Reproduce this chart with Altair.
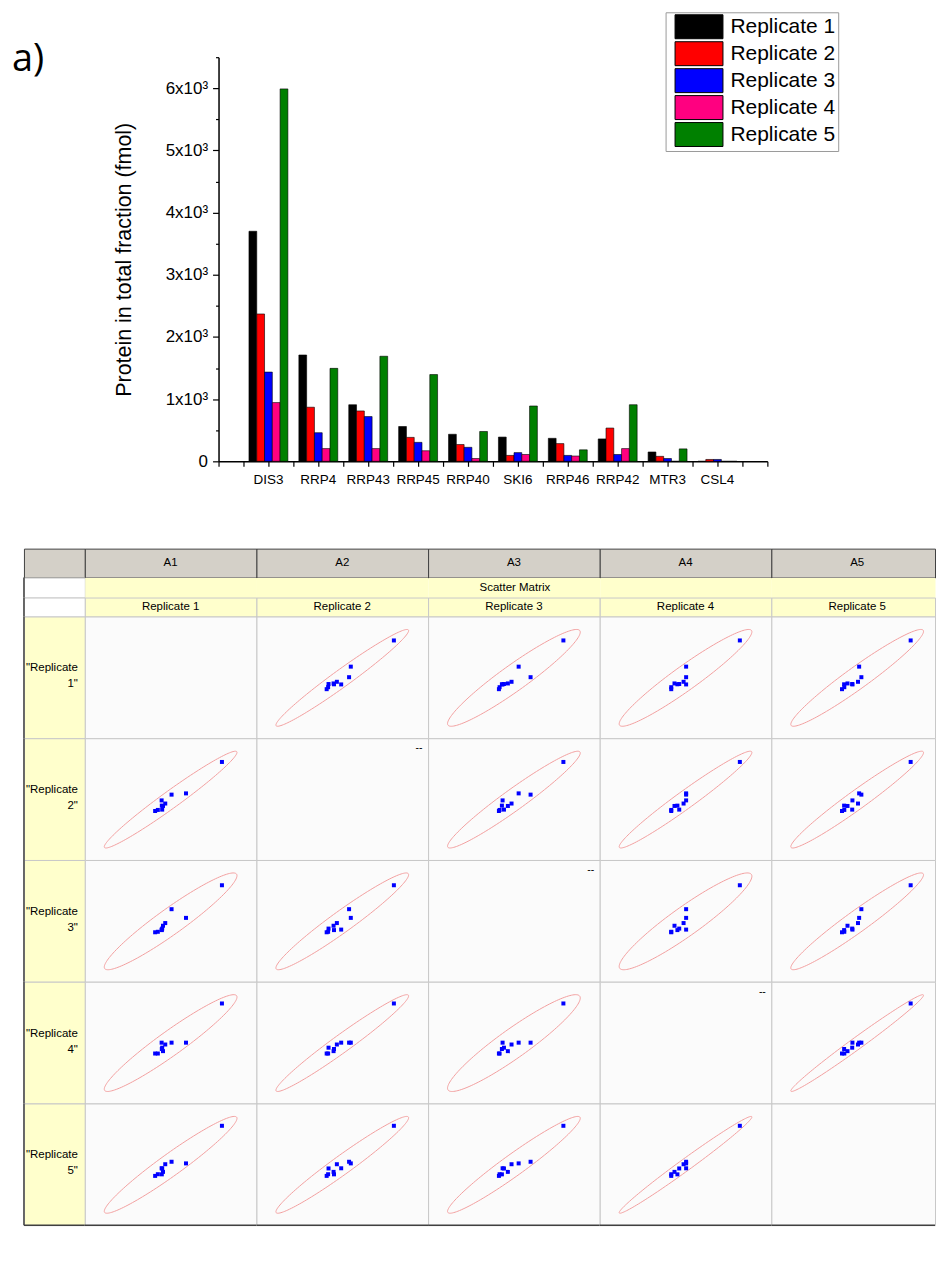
import altair as alt
import numpy as np
import pandas as pd

FONT = "Liberation Sans"

# ---------------- data ----------------
proteins = ["DIS3", "RRP4", "RRP43", "RRP45", "RRP40", "SKI6", "RRP46", "RRP42", "MTR3", "CSL4"]
replicates = ["Replicate 1", "Replicate 2", "Replicate 3", "Replicate 4", "Replicate 5"]
rep1 = [3700, 1710, 910, 560, 435, 390, 370, 360, 150, 0]
rep2 = [2370, 870, 810, 385, 270, 95, 285, 535, 80, 30]
rep3 = [1435, 460, 720, 305, 225, 140, 95, 110, 45, 30]
rep4 = [945, 205, 205, 170, 45, 110, 85, 205, 0, 0]
rep5 = [5990, 1495, 1690, 1395, 480, 890, 185, 910, 200, 0]
colors = ["#000000", "#ff0000", "#0000ff", "#ff0080", "#008000"]
col_headers = ["A1", "A2", "A3", "A4", "A5"]
matrix_title = "Scatter Matrix"
panel_label = "a)"
y_title = "Protein in total fraction (fmol)"

values_by_rep = [rep1, rep2, rep3, rep4, rep5]

bar_df = pd.DataFrame([
    {"protein": p, "replicate": r, "value": v}
    for r, vals in zip(replicates, values_by_rep)
    for p, v in zip(proteins, vals)
])
pos_df = pd.DataFrame({"protein": proteins, "pos": np.arange(1, len(proteins) + 1)})

TRANSPARENT = alt.ViewBackground(stroke="transparent", fill="transparent")

# ---------------- bar chart ----------------
yvals = list(range(0, 6501, 500))
bars = alt.Chart(bar_df).mark_bar(stroke="black", strokeWidth=0.6).encode(
    x=alt.X("protein:N", sort=proteins,
            scale=alt.Scale(paddingInner=0.22, paddingOuter=0.61),
            axis=alt.Axis(title=None, orient="bottom", ticks=False, domain=False, labelAngle=0,
                          labelFont=FONT, labelFontSize=13.5, labelColor="black",
                          labelPadding=11, labelOverlap=False)),
    xOffset=alt.XOffset("replicate:N", sort=replicates),
    y=alt.Y("value:Q", scale=alt.Scale(domain=[0, 6500], nice=False),
            axis=alt.Axis(title=y_title, values=yvals, grid=False,
                          labelExpr="datum.value % 1000 !== 0 ? '' : (datum.value === 0 ? '0' : (datum.value / 1000) + 'x10\u00b3')",
                          tickSize={"condition": {"test": "datum.value % 1000 !== 0", "value": 3}, "value": 6},
                          tickColor="black", tickWidth=1.2, domainColor="black", domainWidth=1.5,
                          labelFont=FONT, labelFontSize=17, labelColor="black", labelPadding=5,
                          labelOverlap=False,
                          titleFont=FONT, titleFontSize=21.5, titleFontWeight="normal",
                          titleColor="black", titlePadding=30)),
    color=alt.Color("replicate:N", sort=replicates,
                    scale=alt.Scale(domain=replicates, range=colors),
                    legend=alt.Legend(title=None, orient="none", legendX=655, legendY=-45,
                                      direction="vertical",
                                      symbolType="M-1,-1H3V1H-1Z", symbolSize=576,
                                      symbolStrokeColor="black", symbolStrokeWidth=1,
                                      symbolOpacity=1, symbolOffset=7, labelOffset=31,
                                      labelFont=FONT, labelFontSize=21, labelColor="black",
                                      labelExpr="datum.label + '\u00a0\u00a0'", labelLimit=0,
                                      strokeColor="#9a9a9a", fillColor="white",
                                      padding=2, rowPadding=-5)),
)

ticks = alt.Chart(pos_df).mark_point(opacity=0).encode(
    x=alt.X("pos:Q", scale=alt.Scale(domain=[0, len(proteins) + 1], nice=False, zero=False),
            axis=alt.Axis(orient="bottom", values=[k / 2 for k in range(0, 2 * (len(proteins) + 1) + 1)],
                          labels=False, title=None, grid=False, tickSize=5, tickColor="black",
                          tickWidth=1.2, domainColor="black", domainWidth=1.5)),
)

bar_chart = alt.layer(bars, ticks).resolve_scale(x="independent").resolve_axis(x="independent").properties(
    width=550, height=405, view=TRANSPARENT)

label_layer = alt.Chart(pd.DataFrame({"t": [panel_label]})).mark_text(
    align="left", baseline="alphabetic", font="Open Sans", fontSize=38, color="black"
).encode(text="t:N", x=alt.value(0), y=alt.value(14))
# invisible extent guide so the row's bounds are predictable
extent_layer = alt.Chart(pd.DataFrame({"t": [0]})).mark_rule(opacity=0, strokeWidth=0.1).encode(
    x=alt.value(0), y=alt.value(-44), y2=alt.value(460))
a_spacer = alt.layer(label_layer, extent_layer).properties(width=207, height=405, view=TRANSPARENT)

bar_row = alt.hconcat(a_spacer, bar_chart, spacing=0, bounds="flush")

# ---------------- scatter matrix table ----------------
GRID = "#c8c8c8"
DARK = "#404040"
YEL = "#ffffcc"
GRAY = "#d4d0c8"
CELL_BG = "#fbfbfb"
ELL = "#f2a0a0"

widths = [172, 172, 172, 172, 164]
RH_W = 61
SP_W = 12
ROW_H = 122


def text_layer(t, x, y, align="center", size=11.5):
    return alt.Chart(pd.DataFrame({"t": [t]})).mark_text(
        align=align, baseline="middle", font=FONT, fontSize=size, color="black",
        lineBreak="\n", lineHeight=16
    ).encode(text="t:N", x=alt.value(x), y=alt.value(y))


def left_rule(h):
    return alt.Chart(pd.DataFrame({"t": [0]})).mark_rule(color=DARK, strokeWidth=1.5).encode(
        x=alt.value(0), y=alt.value(0), y2=alt.value(h))


def bottom_rule(w, h):
    return alt.Chart(pd.DataFrame({"t": [0]})).mark_rule(color=DARK, strokeWidth=1.5).encode(
        x=alt.value(0), x2=alt.value(w), y=alt.value(h))


def box(w, h, fill, stroke, layers):
    if not layers:
        layers = [text_layer("", w / 2, h / 2)]
    return alt.layer(*layers).properties(
        width=w, height=h, view=alt.ViewBackground(fill=fill, stroke=stroke, strokeWidth=1))


def spacer(h):
    return alt.layer(text_layer("", SP_W / 2, h / 2)).properties(width=SP_W, height=h, view=TRANSPARENT)


n = len(proteins)
f95 = (n - 2) / 2 * (0.05 ** (-2 / (n - 2)) - 1)          # F(2, n-2) 95% quantile
k2 = 2 * (n - 1) * (n + 1) / (n * (n - 2)) * f95          # 95% prediction ellipse scale
theta = np.linspace(0, 2 * np.pi, 145)


def scatter_cell(i, j, w, h, last):
    xs = np.asarray(values_by_rep[j], float)
    ys = np.asarray(values_by_rep[i], float)
    cov = np.cov(xs, ys)
    L = np.linalg.cholesky(cov)
    ell = np.sqrt(k2) * (L @ np.vstack([np.cos(theta), np.sin(theta)]))
    ex = ell[0] + xs.mean()
    ey = ell[1] + ys.mean()
    ux = (ex.max() - ex.min()) / 133.0
    uy = (ey.max() - ey.min()) / 97.0
    sx = alt.Scale(domain=[ex.min() - 19.5 * ux, ex.min() + (w - 19.5) * ux], nice=False, zero=False)
    sy = alt.Scale(domain=[ey.min() - 12 * uy, ey.min() + (h - 12) * uy], nice=False, zero=False)
    ell_df = pd.DataFrame({"x": ex, "y": ey, "k": np.arange(len(theta))})
    pts_df = pd.DataFrame({"x": xs, "y": ys, "protein": proteins})
    line = alt.Chart(ell_df).mark_line(color=ELL, strokeWidth=1).encode(
        x=alt.X("x:Q", scale=sx, axis=None), y=alt.Y("y:Q", scale=sy, axis=None), order="k:Q")
    pts = alt.Chart(pts_df).mark_square(size=16, color="#0000ff", opacity=1).encode(
        x=alt.X("x:Q", scale=sx, axis=None), y=alt.Y("y:Q", scale=sy, axis=None))
    layers = [line, pts]
    if last:
        layers.append(bottom_rule(w, h))
    return box(w, h, CELL_BG, GRID, layers)


cells = []
# header row (A1..A5)
cells += [spacer(29), box(RH_W, 29, GRAY, DARK, [])]
cells += [box(w, 29, GRAY, DARK, [text_layer(col_headers[k], 86, 14.5)]) for k, w in enumerate(widths)]
# "Scatter Matrix" merged row
cells += [spacer(20), box(RH_W, 20, "white", GRID, [left_rule(20)])]
for k, w in enumerate(widths):
    lay = [text_layer(matrix_title, 431 - 2 * 172, 10.5)] if k == 2 else []
    cells.append(box(w, 20, YEL, "transparent", lay))
# replicate name row
cells += [spacer(19), box(RH_W, 19, "white", GRID, [left_rule(19)])]
cells += [box(w, 19, YEL, GRID, [text_layer(replicates[k], 86, 9.5)]) for k, w in enumerate(widths)]
# data rows
for i in range(len(replicates)):
    last = i == len(replicates) - 1
    head_layers = [text_layer('"' + replicates[i].replace(" ", "\n") + '"', 54, 52, align="right"),
                   left_rule(ROW_H)]
    if last:
        head_layers.append(bottom_rule(RH_W, ROW_H))
    cells += [spacer(ROW_H), box(RH_W, ROW_H, YEL, GRID, head_layers)]
    for j, w in enumerate(widths):
        if i == j:
            lay = []
            if 0 < i < len(replicates) - 1:
                lay.append(text_layer("--", w - 9, 10, size=10.5))
            else:
                lay.append(text_layer("", w / 2, ROW_H / 2))
            if last:
                lay.append(bottom_rule(w, ROW_H))
            cells.append(box(w, ROW_H, CELL_BG, GRID, lay))
        else:
            cells.append(scatter_cell(i, j, w, ROW_H, last))

table = alt.concat(*cells, columns=7, spacing=0, bounds="flush", align="each")

chart = alt.vconcat(
    bar_row, table, spacing=30.5, bounds="full",
    padding={"left": 11, "top": 10, "right": 0, "bottom": 0},
    background="white",
).configure_view(stroke="transparent")

chart.save("out.html", embed_options={"renderer": "svg", "actions": False})
